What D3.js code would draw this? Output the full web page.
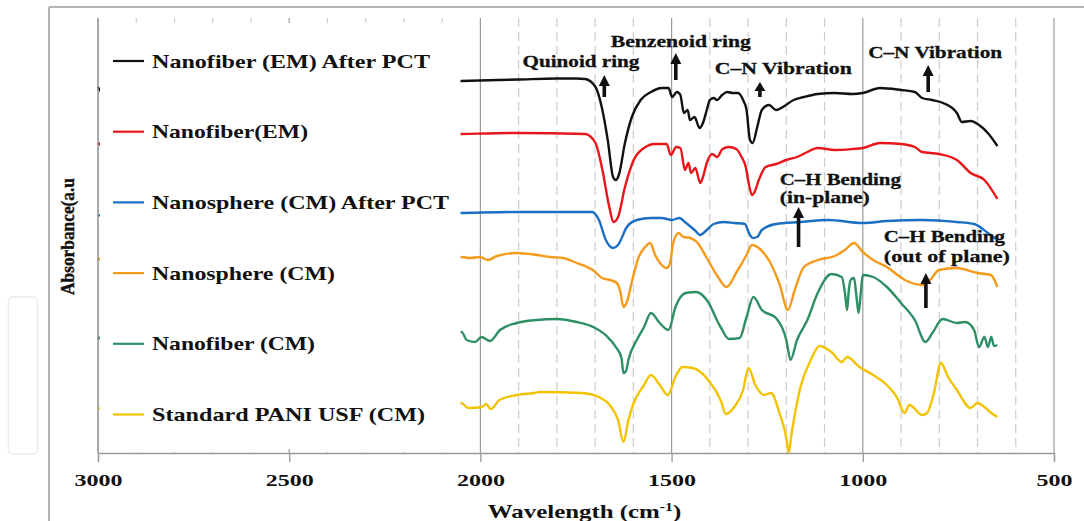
<!DOCTYPE html>
<html><head><meta charset="utf-8">
<script src="https://cdn.jsdelivr.net/npm/d3@7"></script>
<style>
html,body{margin:0;padding:0;background:#fff;}
svg{display:block;font-family:"Liberation Serif","Times New Roman",serif;font-weight:bold;}
</style></head><body>
<svg id="chart" width="1084" height="521"></svg>
<script>
// ---------------- DATA ----------------
const seriesNames = ["Nanofiber (EM) After PCT","Nanofiber(EM)","Nanosphere (CM) After PCT","Nanosphere (CM)","Nanofiber (CM)","Standard PANI USF (CM)"];
const seriesColors = ["#111111","#e8161a","#1a6fc2","#f59a1b","#2e8f64","#f2c300"];

// [wavenumber (cm-1), absorbance (a.u., offset)]
const nanofiberEMAfterPCT = [[3000,36.6],[2990,36.1],[2050,37.2],[1900,37.35],[1800,37.45],[1750,37.45],[1726,37.4],[1699,36.6],[1681,34.3],[1667,31.3],[1653,27.6],[1646,27.3],[1638,27.8],[1622,31.0],[1604,33.6],[1581,35.3],[1554,36.1],[1526,36.5],[1508,36.5],[1499,35.6],[1486,36.1],[1477,35.8],[1468,34.0],[1458,34.3],[1452,33.3],[1440,33.6],[1427,32.5],[1418,33.0],[1408,34.3],[1400,35.3],[1390,35.5],[1381,35.3],[1368,35.8],[1354,36.1],[1340,36.0],[1326,36.0],[1313,35.3],[1304,34.3],[1295,31.3],[1288,31.0],[1276,32.6],[1264,34.3],[1245,34.8],[1227,34.3],[1209,34.6],[1181,35.3],[1154,35.6],[1118,35.9],[1073,36.0],[1027,35.9],[1000,36.0],[955,36.5],[900,36.3],[864,36.1],[845,35.5],[819,35.3],[790,35.0],[754,34.0],[741,33.1],[718,33.2],[696,32.8],[673,32.0],[648,30.7]];

const nanofiberEM = [[3000,31.0],[2990,30.8],[2050,31.9],[1900,32.0],[1726,31.9],[1699,31.0],[1681,28.3],[1663,24.6],[1652,23.1],[1640,23.6],[1622,26.6],[1599,29.3],[1572,30.5],[1544,30.9],[1513,30.9],[1502,29.8],[1488,30.6],[1477,30.5],[1465,28.3],[1456,29.0],[1449,28.0],[1438,28.5],[1425,27.0],[1418,27.6],[1408,29.0],[1394,29.9],[1381,29.6],[1367,30.4],[1350,30.6],[1331,30.4],[1317,29.6],[1306,28.6],[1299,27.1],[1290,25.8],[1283,26.1],[1272,27.3],[1254,28.6],[1227,28.9],[1200,29.3],[1172,29.6],[1145,30.1],[1118,30.5],[1073,30.3],[1027,30.4],[1000,30.5],[955,31.0],[900,30.9],[864,30.6],[845,30.1],[801,29.9],[754,29.3],[718,28.0],[682,27.3],[648,25.4]];

const nanosphereCMAfterPCT = [[3000,23.8],[2990,23.7],[2050,24.0],[1900,24.1],[1708,24.1],[1690,23.3],[1672,21.3],[1653,20.5],[1640,20.8],[1617,22.6],[1591,23.3],[1554,23.5],[1526,23.5],[1499,23.3],[1480,23.5],[1462,23.0],[1440,22.3],[1425,21.8],[1408,22.3],[1390,22.9],[1363,23.1],[1336,23.0],[1308,22.9],[1299,22.1],[1288,21.5],[1276,21.6],[1264,22.3],[1227,22.9],[1164,23.1],[1091,23.3],[1000,23.0],[937,23.2],[845,23.3],[754,23.1],[709,22.9],[673,22.0],[648,21.3]];

const nanosphereCM = [[3000,19.5],[2990,19.3],[2050,19.6],[2027,19.5],[2001,19.6],[1980,19.3],[1957,19.7],[1905,20.0],[1852,19.8],[1818,19.6],[1784,19.5],[1748,19.0],[1721,18.6],[1706,18.3],[1682,17.5],[1661,17.3],[1643,17.0],[1634,16.1],[1626,14.6],[1617,15.1],[1604,17.1],[1587,19.5],[1569,20.6],[1556,21.0],[1543,19.8],[1526,18.8],[1513,18.5],[1504,19.0],[1497,20.8],[1482,22.0],[1469,21.6],[1451,21.5],[1434,21.1],[1408,19.5],[1382,17.8],[1356,16.6],[1330,18.1],[1304,19.8],[1290,20.8],[1269,20.4],[1243,19.1],[1217,16.8],[1196,14.3],[1178,16.3],[1154,18.6],[1117,19.3],[1073,19.7],[1047,20.3],[1023,21.0],[1000,20.1],[973,19.3],[937,18.6],[890,17.3],[845,16.8],[824,17.3],[801,18.3],[754,18.5],[701,18.0],[665,17.8],[648,16.6]];

const nanofiberCM = [[3000,11.6],[2990,11.4],[2049,12.1],[2036,11.3],[2014,11.1],[1997,11.6],[1975,11.2],[1949,12.3],[1905,13.0],[1853,13.3],[1800,13.4],[1748,13.1],[1705,12.6],[1670,11.7],[1644,10.5],[1631,9.5],[1626,8.0],[1619,8.2],[1613,9.3],[1591,11.3],[1572,12.6],[1554,14.0],[1531,13.0],[1508,12.3],[1490,14.6],[1463,16.0],[1436,16.1],[1408,15.3],[1372,12.6],[1350,11.4],[1322,11.5],[1304,13.6],[1286,15.6],[1264,14.3],[1227,13.5],[1200,11.3],[1189,9.3],[1172,11.3],[1145,13.3],[1118,16.0],[1082,17.9],[1055,17.6],[1047,16.1],[1041,14.3],[1037,16.1],[1032,17.3],[1023,17.5],[1017,15.8],[1011,14.0],[1005,16.1],[1000,17.8],[973,17.6],[937,16.6],[900,15.0],[864,13.3],[836,11.1],[818,12.0],[791,13.4],[754,13.0],[732,13.1],[709,12.3],[696,10.6],[682,11.6],[673,10.6],[664,11.6],[657,10.7],[648,10.8]];

const standardPANI = [[3000,4.5],[2990,4.4],[2050,5.0],[2032,4.5],[1996,4.6],[1985,4.9],[1973,4.4],[1950,5.3],[1904,5.8],[1860,6.0],[1844,6.1],[1735,6.0],[1690,5.6],[1658,4.6],[1640,3.3],[1626,1.1],[1613,3.3],[1599,5.0],[1572,6.8],[1554,7.8],[1531,6.8],[1510,5.8],[1490,7.6],[1472,8.6],[1445,8.5],[1400,7.1],[1372,5.3],[1358,3.9],[1336,4.6],[1313,6.3],[1299,8.5],[1281,6.8],[1258,5.8],[1240,6.0],[1218,4.0],[1199,1.3],[1194,0.0],[1186,2.0],[1163,6.6],[1136,9.3],[1113,10.7],[1082,10.1],[1055,9.1],[1041,9.6],[1009,8.6],[973,7.8],[937,6.8],[910,5.5],[891,4.0],[878,4.8],[845,3.8],[832,4.0],[814,6.0],[796,9.0],[777,7.6],[754,6.3],[718,4.5],[700,5.0],[682,4.6],[664,4.0],[648,3.6]];

const allSeries = [nanofiberEMAfterPCT, nanofiberEM, nanosphereCMAfterPCT, nanosphereCM, nanofiberCM, standardPANI];

const xTickValues = [3000,2500,2000,1500,1000,500];
const xGridValues = d3.range(3000, 499, -100);
const xTitle = "Wavelength (cm";
const xTitleSup = "-1";
const yTitle = "Absorbance(a.u";

// annotation labels: text, wavenumber at left edge, absorbance of baseline
const annotationLabels = ["Quinoid ring","Benzenoid ring","C\u2013N Vibration","C\u2013N Vibration","C\u2013H Bending","(in-plane)","C\u2013H Bending","(out of plane)"];
const annotationLabelW = [1890,1659,1387,986,1217,1217,945,945];
const annotationLabelV = [38.6,40.65,37.9,39.47,26.8,25.0,21.13,19.1];
// arrows: wavenumber, tip value, tail value
const arrowW = [1676,1489,1269,829,1168,835];
const arrowTop = [37.8,40.0,37.1,38.8,24.6,18.0];
const arrowBottom = [35.6,37.3,35.6,36.1,20.6,14.5];

// ---------------- STYLE / LAYOUT ----------------
const legendTextWidths = [278,156,297,183,163,273];
const annotationTextWidths = [117,140,137,134,121,90,121,126];

const svg = d3.select("#chart");
const W = 1084, H = 521;
const plot = {left:98, right:1054, top:18, bottom:453};

const x = d3.scaleLinear().domain([3000,500]).range([plot.left, plot.right]);
const y = d3.scaleLinear().domain([0,43.5]).range([plot.bottom, plot.top]);

// outer frame
svg.append("line").attr("x1",49).attr("y1",7).attr("x2",W).attr("y2",7).attr("stroke","#b4b4b4").attr("stroke-width",2);
svg.append("line").attr("x1",49).attr("y1",7).attr("x2",49).attr("y2",H).attr("stroke","#b4b4b4").attr("stroke-width",2);
// faint box at left
svg.append("rect").attr("x",8.5).attr("y",297).attr("width",29).attr("height",157).attr("rx",4)
  .attr("fill","none").attr("stroke","#ececec").attr("stroke-width",1.5);

// gridlines
const major = new Set(xTickValues);
svg.append("g").selectAll("line").data(xGridValues).join("line")
  .attr("x1",d=>x(d)).attr("x2",d=>x(d)).attr("y1",plot.top).attr("y2",plot.bottom)
  .attr("stroke",d=>major.has(d)?"#9a9a9a":"#cdcdcd")
  .attr("stroke-width",1.2)
  .attr("stroke-dasharray",d=>major.has(d)?null:"9,5");

// series lines
const line = d3.line().x(d=>x(d[0])).y(d=>y(d[1])).curve(d3.curveMonotoneX);
svg.append("g").selectAll("path").data(allSeries).join("path")
  .attr("d",line).attr("fill","none")
  .attr("stroke",(d,i)=>seriesColors[i]).attr("stroke-width",2.4)
  .attr("stroke-linejoin","round");

// legend box (white, covers left part of plot)
const lg = svg.append("g");
lg.append("rect").attr("x",100).attr("y",23).attr("width",360.5).attr("height",426).attr("fill","#fff");
const legendY0 = 61, legendStep = 70.7;
seriesNames.forEach((name,i)=>{
  const yy = legendY0 + i*legendStep;
  lg.append("line").attr("x1",113).attr("x2",144).attr("y1",yy).attr("y2",yy)
    .attr("stroke",seriesColors[i]).attr("stroke-width",2.2);
  lg.append("text").attr("x",152).attr("y",yy+6.5).attr("font-size",19)
    .attr("textLength",legendTextWidths[i]).attr("lengthAdjust","spacingAndGlyphs")
    .attr("fill","#111").text(name);
});

// axes
svg.append("line").attr("x1",plot.left).attr("x2",plot.left).attr("y1",plot.top).attr("y2",plot.bottom).attr("stroke","#9a9a9a").attr("stroke-width",1.3);
const xAxis = d3.axisBottom(x).tickValues(xTickValues).tickSize(9).tickFormat(d3.format("d"));
const gx = svg.append("g").attr("transform",`translate(0,${plot.bottom})`).call(xAxis);
gx.select(".domain").attr("stroke","#9a9a9a").attr("stroke-width",1.3);
gx.selectAll(".tick line").attr("stroke","#9a9a9a").attr("stroke-width",1.3);
gx.selectAll(".tick text").attr("y",33).attr("dy",0).attr("font-size",17)
  .attr("font-family","Liberation Serif, Times New Roman, serif").attr("font-weight","bold")
  .attr("fill","#111").attr("textLength",d=>String(d).length*12).attr("lengthAdjust","spacingAndGlyphs");

// x title
const xt = svg.append("text").attr("transform","translate(584.5,518) scale(1.31,1)")
  .attr("text-anchor","middle").attr("font-size",19).attr("fill","#111");
xt.append("tspan").text(xTitle);
xt.append("tspan").attr("font-size",12).attr("dy",-7).text(xTitleSup);
xt.append("tspan").attr("dy",7).text(")");

// y title
svg.append("text").attr("transform","translate(74,236.5) rotate(-90)")
  .attr("text-anchor","middle").attr("font-size",19).attr("fill","#111")
  .attr("stroke","#111").attr("stroke-width",0.4)
  .attr("textLength",117).attr("lengthAdjust","spacingAndGlyphs").text(yTitle);

// annotations
const ag = svg.append("g");
annotationLabels.forEach((t,i)=>{
  ag.append("text").attr("x",x(annotationLabelW[i])).attr("y",y(annotationLabelV[i]))
    .attr("font-size",17).attr("fill","#111").attr("stroke","#111").attr("stroke-width",0.3)
    .attr("textLength",annotationTextWidths[i]).attr("lengthAdjust","spacingAndGlyphs").text(t);
});
arrowW.forEach((w,i)=>{
  const ax = x(w), yt = y(arrowTop[i]), yb = y(arrowBottom[i]);
  const hl = Math.min(11,(yb-yt)*0.6), hw = 5.5;
  ag.append("line").attr("x1",ax).attr("x2",ax).attr("y1",yt+hl-1).attr("y2",yb)
    .attr("stroke","#111").attr("stroke-width",3.6);
  ag.append("path").attr("d",`M${ax},${yt} L${ax-hw},${yt+hl} L${ax+hw},${yt+hl} Z`).attr("fill","#111");
});
</script>
</body></html>
